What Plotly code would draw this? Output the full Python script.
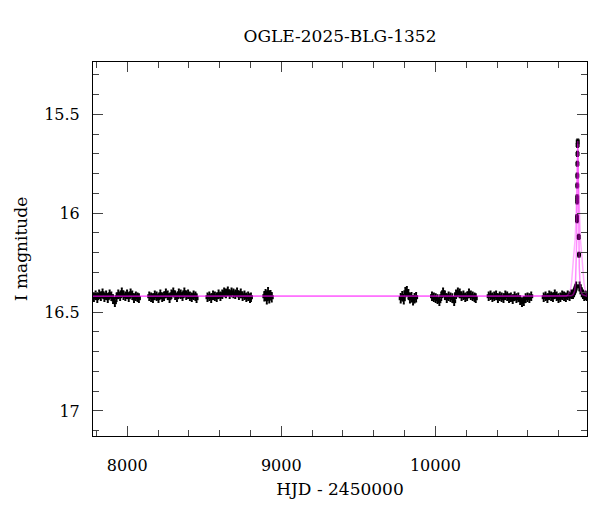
import plotly.graph_objects as go

chart_title = "OGLE-2025-BLG-1352"
x_title = "HJD - 2450000"
y_title = "I magnitude"

# Observed photometry, season by season (HJD-2450000, I mag)
t1 = [7784, 7795, 7806, 7818, 7829, 7840, 7852, 7863, 7874, 7886, 7897, 7908, 7920, 7931,
      7942, 7954, 7965, 7976, 7988, 7999, 8010, 8022, 8033, 8044, 8056, 8067, 8076]
m1 = [16.425, 16.415, 16.43, 16.41, 16.42, 16.405, 16.425, 16.415, 16.43, 16.41, 16.42, 16.435, 16.45, 16.425,
      16.41, 16.42, 16.40, 16.415, 16.42, 16.41, 16.425, 16.405, 16.415, 16.43, 16.42, 16.425, 16.43]

t2 = [8143, 8155, 8167, 8179, 8191, 8203, 8215, 8227, 8239, 8251, 8263, 8275, 8287, 8299,
      8311, 8323, 8335, 8347, 8359, 8371, 8383, 8395, 8407, 8419, 8431, 8443, 8450]
m2 = [16.42, 16.425, 16.43, 16.415, 16.42, 16.43, 16.41, 16.425, 16.42, 16.405, 16.415, 16.43, 16.41, 16.40,
      16.415, 16.425, 16.405, 16.41, 16.42, 16.40, 16.415, 16.41, 16.42, 16.425, 16.415, 16.42, 16.43]

t3 = [8521, 8533, 8545, 8557, 8569, 8581, 8593, 8605, 8617, 8629, 8641, 8653, 8665, 8677,
      8689, 8701, 8713, 8725, 8737, 8749, 8761, 8773, 8785, 8797, 8803]
m3 = [16.425, 16.42, 16.43, 16.415, 16.42, 16.425, 16.41, 16.42, 16.41, 16.40, 16.405, 16.395, 16.41, 16.40,
      16.405, 16.41, 16.40, 16.415, 16.405, 16.42, 16.415, 16.425, 16.42, 16.43, 16.425]

t4 = [8890, 8898, 8906, 8914, 8922, 8930, 8938]
m4 = [16.42, 16.41, 16.435, 16.40, 16.43, 16.415, 16.425]

t5 = [9775, 9785, 9795, 9805, 9815, 9825, 9835, 9845, 9855, 9865, 9875]
m5 = [16.43, 16.42, 16.435, 16.40, 16.395, 16.41, 16.43, 16.425, 16.44, 16.43, 16.425]

t6 = [9978, 9990, 10002, 10014, 10026, 10038, 10050, 10062, 10074, 10086, 10098, 10110, 10122,
      10134, 10146, 10158, 10170, 10182, 10194, 10206, 10218, 10230, 10242, 10254, 10262]
m6 = [16.42, 16.425, 16.43, 16.435, 16.445, 16.42, 16.40, 16.415, 16.43, 16.42, 16.425, 16.43, 16.445,
      16.41, 16.40, 16.405, 16.42, 16.415, 16.425, 16.42, 16.405, 16.415, 16.42, 16.425, 16.43]

t7 = [10346, 10358, 10370, 10382, 10394, 10406, 10418, 10430, 10442, 10454, 10466, 10478,
      10490, 10502, 10514, 10526, 10538, 10550, 10562, 10574, 10586, 10598, 10610, 10622]
m7 = [16.42, 16.415, 16.425, 16.42, 16.415, 16.43, 16.42, 16.425, 16.43, 16.415, 16.42, 16.43,
      16.425, 16.435, 16.42, 16.43, 16.425, 16.44, 16.45, 16.445, 16.43, 16.425, 16.43, 16.42]

t8 = [10703, 10715, 10727, 10739, 10751, 10763, 10775, 10787, 10799, 10811, 10823, 10835, 10847,
      10859, 10871, 10883, 10893, 10900, 10905, 10910, 10914,
      10936, 10942, 10950, 10958, 10966, 10974, 10982]
m8 = [16.425, 16.42, 16.43, 16.415, 16.42, 16.425, 16.41, 16.42, 16.43, 16.425, 16.415, 16.42, 16.425,
      16.415, 16.42, 16.41, 16.41, 16.40, 16.39, 16.38, 16.37,
      16.37, 16.385, 16.40, 16.41, 16.42, 16.415, 16.42]

# Points on the peak of the event
t_peak = [10919.0, 10919.2, 10920.0, 10920.3, 10920.6, 10921.0, 10921.7, 10922.4, 10923.0, 10924.0, 10930.5, 10932.0]
m_peak = [16.02, 16.035, 15.94, 15.92, 15.86, 15.81, 15.75, 15.70, 15.655, 15.637, 16.12, 16.21]

season_t = [t1, t2, t3, t4, t5, t6, t7, t8]
season_m = [m1, m2, m3, m4, m5, m6, m7, m8]
season_err = [0.02, 0.02, 0.02, 0.022, 0.022, 0.02, 0.02, 0.02]
peak_err = 0.012

# Model light curves
model_t = [7778, 10850, 10880, 10894, 10904, 10909, 10914, 10917, 10919, 10920, 10921, 10922, 10923,
           10924, 10925, 10926, 10927, 10928, 10929, 10931, 10934, 10939, 10944, 10954, 10985]
model_m = [16.42, 16.42, 16.418, 16.412, 16.394, 16.362, 16.272, 16.143, 16.003, 15.915, 15.82, 15.73, 15.66,
           15.635, 15.66, 15.73, 15.82, 15.915, 16.003, 16.143, 16.272, 16.362, 16.394, 16.412, 16.42]

broad_t = [7778, 10850, 10874, 10884, 10898, 10907, 10913, 10919, 10922, 10924,
           10926, 10929, 10935, 10941, 10950, 10964, 10974, 10985]
broad_m = [16.42, 16.42, 16.40, 16.35, 16.21, 16.13, 16.02, 15.85, 15.72, 15.65,
           15.72, 15.85, 16.02, 16.13, 16.21, 16.35, 16.40, 16.415]

x_range = [7778, 10984]
y_range = [17.127, 15.235]

FONT = "DejaVu Serif"

fig = go.Figure()
for t, m, e in zip(season_t, season_m, season_err):
    fig.add_trace(go.Scatter(
        x=t, y=m, mode="markers",
        marker=dict(symbol="square", size=4, color="black", line=dict(width=0)),
        error_y=dict(type="constant", value=e, color="black", thickness=1.8, width=1),
        showlegend=False, hoverinfo="skip"))
fig.add_trace(go.Scatter(
    x=t_peak, y=m_peak, mode="markers",
    marker=dict(symbol="square", size=4, color="black", line=dict(width=0)),
    error_y=dict(type="constant", value=peak_err, color="black", thickness=1.4, width=1.5),
    showlegend=False, hoverinfo="skip"))

fig.add_trace(go.Scatter(x=broad_t, y=broad_m, mode="lines",
                         line=dict(color="rgba(255,0,255,0.32)", width=1.5),
                         showlegend=False, hoverinfo="skip"))
fig.add_trace(go.Scatter(x=model_t, y=model_m, mode="lines",
                         line=dict(color="rgba(255,0,255,0.45)", width=1.5),
                         showlegend=False, hoverinfo="skip"))

axis_common = dict(
    showline=True, linecolor="black", linewidth=1, mirror="allticks",
    ticks="inside", ticklen=10, tickwidth=1, tickcolor="#444",
    showgrid=False, zeroline=False,
    tickfont=dict(family=FONT, size=16, color="black"),
)

fig.update_xaxes(
    range=x_range, tick0=0, dtick=1000, tickformat="d",
    minor=dict(ticks="inside", ticklen=6, tickwidth=1, tickcolor="#444", dtick=200, tick0=0, showgrid=False),
    title=dict(text=x_title, font=dict(family=FONT, size=17, color="black"), standoff=8),
    ticklabelstandoff=15,
    **axis_common)
fig.update_yaxes(
    range=y_range, tick0=0, dtick=0.5,
    minor=dict(ticks="inside", ticklen=6, tickwidth=1, tickcolor="#444", dtick=0.1, tick0=0, showgrid=False),
    title=dict(text=y_title, font=dict(family=FONT, size=17, color="black"), standoff=12),
    ticklabelstandoff=9,
    **axis_common)

# page body adds an 8px offset; size figure so the plot area lands where the reference has it
fig.update_layout(
    width=592, height=504,
    margin=dict(l=79, r=13, t=54, b=76),
    paper_bgcolor="white", plot_bgcolor="white",
    title=dict(text=chart_title, x=0.5, xref="paper", xanchor="center", y=1 - 28 / 504, yanchor="middle",
               yref="container", font=dict(family=FONT, size=17, color="black")),
)

fig.write_html("out.html")
